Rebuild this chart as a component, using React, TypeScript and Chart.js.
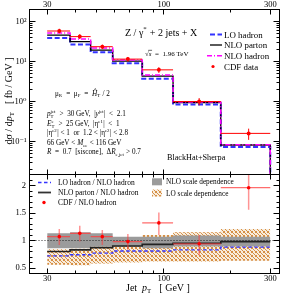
import React, { useEffect, useRef } from 'react';
import { Chart, registerables } from 'chart.js';

Chart.register(...registerables);

const FONT = '"Liberation Serif", "DejaVu Serif", serif';
const BLUE = '#3333ff';
const MAGENTA = '#ff00ff';
const RED = '#ff0000';

// ---- data ----
const binEdges = [30, 38, 47, 59, 80, 110, 180, 300];
const cdfX = [34, 42, 53, 69, 95, 144, 240];
const cdfValues = [58, 42, 23.5, 11.5, 6.2, 1.0, 0.16];
const cdfErrLo = [51, 36.5, 20.5, 10, 5.2, 0.8, 0.11];
const cdfErrHi = [66, 48, 26.5, 13, 7.2, 1.22, 0.21];
const nloHadron = [52, 36.5, 21.8, 11.0, 4.6, 0.98, 0.083];
const nloParton = [46, 31.5, 19.4, 10.2, 4.3, 0.94, 0.082];
const loHadron = [39, 26.5, 17.0, 9.0, 3.7, 0.84, 0.073];

const ratioLo = [0.72, 0.74, 0.77, 0.81, 0.81, 0.83, 0.88];
const ratioParton = [0.8, 0.83, 0.87, 0.9, 0.93, 0.95, 0.98];
const ratioCdf = [1.07, 1.13, 1.07, 0.98, 1.32, 0.94, 1.96];
const ratioCdfLo = [0.92, 0.98, 0.92, 0.83, 1.1, 0.73, 1.56];
const ratioCdfHi = [1.21, 1.27, 1.19, 1.12, 1.51, 1.1, 2.4];
const nloBandLo = [0.86, 0.86, 0.89, 0.89, 0.86, 0.89, 0.89];
const nloBandHi = [1.13, 1.15, 1.13, 1.07, 1.07, 1.09, 1.07];
const loBandLo = [0.56, 0.55, 0.58, 0.6, 0.62, 0.62, 0.63];
const loBandHi = [0.84, 0.85, 0.89, 0.9, 1.1, 1.15, 1.21];

const xRange = [25, 330];
const xLabelTicks = [30, 100, 300];
const xMinorTicks = [40, 50, 60, 70, 80, 90, 200];
const yUpperRange = [0.015, 200];
const yUpperTicks = [0.1, 1, 10, 100];
const yUpperLabels = ['10⁻¹', '10⁰', '10¹', '10²'];
const yLowerRange = [0.4, 2.2];
const yLowerTicks = [0.5, 1, 1.5, 2];
const yLowerLabels = ['0.5', '1', '1.5', '2'];
const histFloor = 0.001; // histogram falls to (near) zero after last bin

// ---- layout ----
const W = 284;
const H = 296;
const PLOT_LEFT = 29.5;
const PLOT_RIGHT_PAD = 4.5;
const UPPER_TOP = 9.5;
const SPLIT = 174.5;
const LOWER_BOTTOM = 273.5;

type Part = string | [string, string] | { sub?: string; sup?: string };

function rich(ctx: CanvasRenderingContext2D, x: number, y: number, parts: Part[], size: number, draw = true): number {
  let cx = x;
  for (const p of parts) {
    if (typeof p === 'string' || Array.isArray(p)) {
      const t = typeof p === 'string' ? p : p[0];
      const st = typeof p === 'string' ? '' : p[1];
      ctx.font = `${st.includes('i') ? 'italic ' : ''}${size}px ${FONT}`;
      if (draw) ctx.fillText(t, cx, y);
      cx += ctx.measureText(t).width;
    } else {
      const fs = size * 0.68;
      ctx.font = `${fs}px ${FONT}`;
      let w = 0;
      if (p.sub) {
        if (draw) ctx.fillText(p.sub, cx, y + size * 0.24);
        w = Math.max(w, ctx.measureText(p.sub).width);
      }
      if (p.sup) {
        if (draw) ctx.fillText(p.sup, cx, y - size * 0.42);
        w = Math.max(w, ctx.measureText(p.sup).width);
      }
      cx += w + size * 0.06;
    }
  }
  return cx - x;
}

function histPath(vals: number[], dropTo?: number) {
  const pts: { x: number; y: number }[] = vals.map((v, i) => ({ x: binEdges[i], y: v }));
  pts.push({ x: binEdges[binEdges.length - 1], y: vals[vals.length - 1] });
  if (dropTo !== undefined) pts.push({ x: binEdges[binEdges.length - 1], y: dropTo });
  return pts;
}
function vBars(xs: number[], lo: number[], hi: number[]) {
  return xs.flatMap((x, i) => [
    { x, y: lo[i] as number | null },
    { x, y: hi[i] as number | null },
    { x, y: null },
  ]);
}
function hBars(vals: number[]) {
  return vals.flatMap((v, i) => [
    { x: binEdges[i], y: v as number | null },
    { x: binEdges[i + 1], y: v as number | null },
    { x: binEdges[i + 1], y: null },
  ]);
}

function makeHatch(): CanvasPattern | string {
  const c = document.createElement('canvas');
  c.width = 4;
  c.height = 4;
  const g = c.getContext('2d');
  if (!g) return '#e8b67c';
  g.fillStyle = '#f8ecdc';
  g.fillRect(0, 0, 4, 4);
  g.fillStyle = '#d68f45';
  for (const [px, py] of [[0, 0], [1, 1], [2, 2], [3, 3], [3, 0], [0, 3]]) g.fillRect(px, py, 1, 1);
  const pat = g.createPattern(c, 'repeat');
  return pat || '#e8b67c';
}

const snap = (v: number) => Math.round(v - 0.5) + 0.5;

function drawFrameAndTicks(chart: any, log: boolean) {
  const { ctx, chartArea: a, scales } = chart;
  const xs = scales.x;
  const ys = scales.y;
  ctx.save();
  ctx.strokeStyle = '#000';
  ctx.lineWidth = 1;
  ctx.strokeRect(snap(a.left), snap(a.top), Math.round(a.right - a.left), Math.round(a.bottom - a.top));
  ctx.beginPath();
  const xt = [...xLabelTicks.map((v) => [v, 5]), ...xMinorTicks.map((v) => [v, 3])];
  for (const [v, L] of xt) {
    const px = snap(xs.getPixelForValue(v));
    ctx.moveTo(px, a.top);
    ctx.lineTo(px, a.top + L);
    ctx.moveTo(px, a.bottom);
    ctx.lineTo(px, a.bottom - L);
  }
  const yt: number[][] = [];
  if (log) {
    for (const d of [0.01, 0.1, 1, 10, 100]) {
      for (let m = 1; m <= 9; m++) {
        const v = d * m;
        if (v >= ys.min && v <= ys.max) yt.push([v, m === 1 ? 6 : 3]);
      }
    }
  } else {
    for (let k = 4; k <= 22; k++) {
      const v = k / 10;
      yt.push([v, k % 5 === 0 ? 6 : 3]);
    }
  }
  for (const [v, L] of yt) {
    const py = snap(ys.getPixelForValue(v));
    ctx.moveTo(a.left, py);
    ctx.lineTo(a.left + L, py);
    ctx.moveTo(a.right, py);
    ctx.lineTo(a.right - L, py);
  }
  ctx.stroke();
  ctx.restore();
}

const tickFont = { family: FONT, size: 8.5 };

export default function App() {
  const topRef = useRef<HTMLCanvasElement | null>(null);
  const botRef = useRef<HTMLCanvasElement | null>(null);

  useEffect(() => {
    const hatch = makeHatch();
    const lineBase = { pointRadius: 0, fill: false, spanGaps: false, tension: 0 };

    const upperPlugin = {
      id: 'upperDecor',
      afterDraw(chart: any) {
        drawFrameAndTicks(chart, true);
        const ctx: CanvasRenderingContext2D = chart.ctx;
        ctx.save();
        ctx.fillStyle = '#000';
        ctx.textBaseline = 'alphabetic';
        // title
        rich(ctx, 125, 35.5, ['Z / ', ['γ', ''], { sup: '*' }, ' + 2 jets + X'], 10);
        // sqrt s
        ctx.font = `7px ${FONT}`;
        ctx.fillText('√', 145, 56);
        const rw = ctx.measureText('√').width;
        ctx.font = `italic 7px ${FONT}`;
        ctx.fillText('s', 145 + rw, 56);
        const sw = ctx.measureText('s').width;
        ctx.beginPath();
        ctx.lineWidth = 0.6;
        ctx.strokeStyle = '#000';
        ctx.moveTo(145 + rw - 0.5, 50.3);
        ctx.lineTo(145 + rw + sw + 0.5, 50.3);
        ctx.stroke();
        ctx.font = `7px ${FONT}`;
        ctx.fillText('  =  1.96 TeV', 145 + rw + sw, 56);
        // annotations
        const fs = 7.2;
        rich(ctx, 55, 95.5, ['μ', { sub: 'R' }, '  =  μ', { sub: 'F' }, '  =  ', ['Ĥ', 'i'], { sub: 'T' }, ' / 2'], fs);
        rich(ctx, 47, 116, [['p', 'i'], { sub: 'T', sup: 'jet' }, '  >  30 GeV,  |', ['y', 'i'], { sup: 'jet' }, '|  <  2.1'], fs);
        rich(ctx, 47, 126, [['E', 'i'], { sub: 'T', sup: 'e' }, '  >  25 GeV,  |η', { sup: 'e1' }, '|  <  1'], fs);
        rich(ctx, 47, 135.3, ['|η', { sup: 'e2' }, '| < 1  or  1.2 < |η', { sup: 'e2' }, '| < 2.8'], fs);
        rich(ctx, 47, 145, ['66 GeV < ', ['M', 'i'], { sub: 'ee' }, ' < 116 GeV'], fs);
        rich(ctx, 47, 154.3, [['R', 'i'], '  =  0.7  [siscone],  Δ', ['R', 'i'], { sub: 'e,jet' }, ' > 0.7'], fs);
        ctx.font = `8.2px ${FONT}`;
        ctx.fillText('BlackHat+Sherpa', 167, 159.5);
        // legend
        const lx1 = 210, lx2 = 222, tx = 224;
        const rows = [34.5, 45, 55.8, 66.5];
        ctx.lineWidth = 2;
        ctx.strokeStyle = BLUE;
        ctx.setLineDash([5, 2.5]);
        ctx.beginPath(); ctx.moveTo(lx1, rows[0]); ctx.lineTo(lx2, rows[0]); ctx.stroke();
        ctx.setLineDash([]);
        ctx.lineWidth = 1.3;
        ctx.strokeStyle = '#000';
        ctx.beginPath(); ctx.moveTo(lx1, rows[1]); ctx.lineTo(lx2, rows[1]); ctx.stroke();
        ctx.lineWidth = 1.5;
        ctx.strokeStyle = MAGENTA;
        ctx.setLineDash([5, 2, 1, 2]);
        ctx.beginPath(); ctx.moveTo(lx1 - 3, rows[2]); ctx.lineTo(lx2, rows[2]); ctx.stroke();
        ctx.setLineDash([]);
        ctx.fillStyle = RED;
        ctx.beginPath(); ctx.arc(213, rows[3], 1.6, 0, Math.PI * 2); ctx.fill();
        ctx.fillStyle = '#000';
        ctx.font = `8.9px ${FONT}`;
        const labels = ['LO hadron', 'NLO parton', 'NLO hadron', 'CDF data'];
        labels.forEach((t, i) => ctx.fillText(t, tx, rows[i] + 3));
        // y title
        ctx.save();
        ctx.translate(11.5, 101);
        ctx.rotate(-Math.PI / 2);
        const yt: Part[] = ['dσ / d', ['p', 'i'], { sub: 'T' }, '   [ fb / GeV ]'];
        const w = rich(ctx, 0, 0, yt, 10, false);
        rich(ctx, -w / 2, 0, yt, 10);
        ctx.restore();
        ctx.restore();
      },
    };

    const lowerPlugin = {
      id: 'lowerDecor',
      afterDraw(chart: any) {
        drawFrameAndTicks(chart, false);
        const ctx: CanvasRenderingContext2D = chart.ctx;
        ctx.save();
        ctx.textBaseline = 'alphabetic';
        // legend left column
        const rows = [182.5, 192.5, 202.5];
        ctx.strokeStyle = BLUE;
        ctx.lineWidth = 1.3;
        ctx.setLineDash([3.5, 2.5]);
        ctx.beginPath(); ctx.moveTo(38, rows[0]); ctx.lineTo(51, rows[0]); ctx.stroke();
        ctx.setLineDash([]);
        ctx.strokeStyle = '#333';
        ctx.lineWidth = 1.8;
        ctx.beginPath(); ctx.moveTo(38, rows[1]); ctx.lineTo(51, rows[1]); ctx.stroke();
        ctx.fillStyle = RED;
        ctx.beginPath(); ctx.arc(44, rows[2], 1.7, 0, Math.PI * 2); ctx.fill();
        ctx.fillStyle = '#000';
        ctx.font = `7.5px ${FONT}`;
        ['LO hadron / NLO hadron', 'NLO parton / NLO hadron', 'CDF / NLO hadron'].forEach((t, i) =>
          ctx.fillText(t, 58, rows[i] + 2.6)
        );
        // legend right column
        ctx.fillStyle = '#9b9b9b';
        ctx.fillRect(152, 178.3, 10, 7);
        ctx.fillStyle = hatch as any;
        ctx.fillRect(152, 189.5, 10, 7);
        ctx.fillStyle = '#000';
        ctx.font = `7.3px ${FONT}`;
        ctx.fillText('NLO scale dependence', 166, 184.3);
        ctx.fillText('LO scale dependence', 166, 195.6);
        // x title
        rich(ctx, 126, 291, ['Jet  ', ['p', 'i'], { sub: 'T' }, '   [ GeV ]'], 10);
        ctx.restore();
      },
    };

    const xScale = (position: 'top' | 'bottom', size: number) => ({
      type: 'logarithmic' as const,
      position,
      min: xRange[0],
      max: xRange[1],
      grid: { display: false, drawTicks: false },
      border: { display: false },
      afterBuildTicks: (s: any) => {
        s.ticks = xLabelTicks.map((v) => ({ value: v }));
      },
      afterFit: (s: any) => {
        s.height = size;
      },
      ticks: {
        autoSkip: false,
        maxRotation: 0,
        padding: 0,
        color: '#000',
        font: tickFont,
        callback: (v: any) => String(v),
      },
    });

    const upper = new Chart(topRef.current as HTMLCanvasElement, {
      type: 'line',
      data: {
        datasets: [
          { ...lineBase, data: cdfX.map((x, i) => ({ x, y: cdfValues[i] })), showLine: false, pointRadius: 2, pointBackgroundColor: RED, pointBorderWidth: 0, order: 0 },
          { ...lineBase, data: vBars(cdfX, cdfErrLo, cdfErrHi), borderColor: RED, borderWidth: 1, order: 1 },
          { ...lineBase, data: hBars(cdfValues), borderColor: RED, borderWidth: 1, order: 1 },
          { ...lineBase, data: histPath(nloHadron, histFloor), borderColor: MAGENTA, borderWidth: 1.5, borderDash: [5, 2, 1, 2], stepped: 'before', order: 2 },
          { ...lineBase, data: histPath(nloParton, histFloor), borderColor: '#000', borderWidth: 1.3, stepped: 'before', order: 3 },
          { ...lineBase, data: histPath(loHadron, histFloor), borderColor: BLUE, borderWidth: 2, borderDash: [5, 2.5], stepped: 'before', order: 4 },
        ] as any,
      },
      options: {
        animation: false,
        responsive: false,
        maintainAspectRatio: false,
        events: [],
        layout: { padding: { left: 0, right: PLOT_RIGHT_PAD, top: 0, bottom: H - SPLIT } },
        plugins: { legend: { display: false }, tooltip: { enabled: false } },
        scales: {
          x: xScale('top', UPPER_TOP) as any,
          y: {
            type: 'logarithmic',
            min: yUpperRange[0],
            max: yUpperRange[1],
            grid: { display: false, drawTicks: false },
            border: { display: false },
            afterBuildTicks: (s: any) => {
              s.ticks = yUpperTicks.map((v) => ({ value: v }));
            },
            afterFit: (s: any) => {
              s.width = PLOT_LEFT;
            },
            ticks: {
              autoSkip: false,
              padding: 3,
              color: '#000',
              font: tickFont,
              callback: (_v: any, i: number) => yUpperLabels[i],
            },
          } as any,
        },
      },
      plugins: [upperPlugin],
    });

    const lower = new Chart(botRef.current as HTMLCanvasElement, {
      type: 'line',
      data: {
        datasets: [
          { ...lineBase, data: histPath(loBandLo), borderWidth: 0, stepped: 'before', order: 20 },
          { ...lineBase, data: histPath(loBandHi), borderWidth: 0, stepped: 'before', fill: '-1', backgroundColor: hatch, order: 19 },
          { ...lineBase, data: histPath(nloBandLo), borderWidth: 0, stepped: 'before', order: 18 },
          { ...lineBase, data: histPath(nloBandHi), borderWidth: 0, stepped: 'before', fill: '-1', backgroundColor: '#9b9b9b', order: 17 },
          { ...lineBase, data: xRange.map((x) => ({ x, y: 1 })), borderColor: '#000', borderWidth: 0.8, borderDash: [1, 2], order: 16 },
          { ...lineBase, data: histPath(ratioParton), borderColor: '#222', borderWidth: 1.6, stepped: 'before', order: 15 },
          { ...lineBase, data: histPath(ratioLo), borderColor: BLUE, borderWidth: 1.4, borderDash: [3.5, 2.5], stepped: 'before', order: 14 },
          { ...lineBase, data: vBars(cdfX, ratioCdfLo, ratioCdfHi), borderColor: 'rgba(255,60,60,0.55)', borderWidth: 1.5, order: 13 },
          { ...lineBase, data: hBars(ratioCdf), borderColor: 'rgba(255,60,60,0.75)', borderWidth: 1.2, order: 12 },
          { ...lineBase, data: cdfX.map((x, i) => ({ x, y: ratioCdf[i] })), showLine: false, pointRadius: 1.8, pointBackgroundColor: RED, pointBorderWidth: 0, order: 11 },
        ] as any,
      },
      options: {
        animation: false,
        responsive: false,
        maintainAspectRatio: false,
        events: [],
        layout: { padding: { left: 0, right: PLOT_RIGHT_PAD, top: SPLIT, bottom: 0 } },
        plugins: { legend: { display: false }, tooltip: { enabled: false } },
        scales: {
          x: xScale('bottom', H - LOWER_BOTTOM) as any,
          y: {
            type: 'linear',
            min: yLowerRange[0],
            max: yLowerRange[1],
            grid: { display: false, drawTicks: false },
            border: { display: false },
            afterBuildTicks: (s: any) => {
              s.ticks = yLowerTicks.map((v) => ({ value: v }));
            },
            afterFit: (s: any) => {
              s.width = PLOT_LEFT;
            },
            ticks: {
              autoSkip: false,
              padding: 3.5,
              color: '#000',
              font: tickFont,
              callback: (_v: any, i: number) => yLowerLabels[i],
            },
          } as any,
        },
      },
      plugins: [lowerPlugin],
    });

    return () => {
      upper.destroy();
      lower.destroy();
    };
  }, []);

  const cs: React.CSSProperties = { position: 'absolute', left: 0, top: 0, width: W, height: H };
  return (
    <div style={{ position: 'fixed', left: 0, top: 0, width: W, height: H, background: '#fff' }}>
      <canvas ref={botRef} width={W} height={H} style={cs} />
      <canvas ref={topRef} width={W} height={H} style={cs} />
    </div>
  );
}
